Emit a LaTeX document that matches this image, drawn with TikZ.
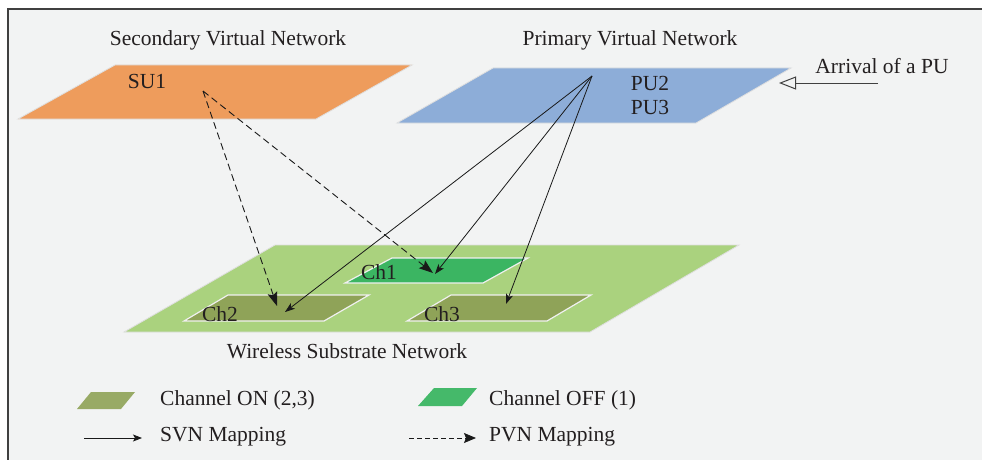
\documentclass[tikz,border=0pt]{standalone}
\usepackage{fontspec}
\setmainfont{Liberation Serif}
\usetikzlibrary{arrows.meta}
\definecolor{bgc}{HTML}{F2F3F3}
\definecolor{orangep}{HTML}{EE9C5C}
\definecolor{bluep}{HTML}{8DADD8}
\definecolor{greenp}{HTML}{AAD27E}
\definecolor{choff}{HTML}{3BB562}
\definecolor{chon}{HTML}{8FA358}
\definecolor{txt}{HTML}{231F20}
\tikzset{
  lbl/.style={inner sep=0pt, text=txt, font=\fontsize{21.5}{25}\selectfont},
  plane/.style={draw=gray!25, line width=0.8pt},
  chan/.style={draw=white!88!gray, line width=1.2pt},
  svn/.style={draw=black!90, line width=0.8pt, -{Stealth[length=10pt,width=7pt,inset=2.5pt]}},
  pvn/.style={draw=black!90, line width=0.9pt, dash pattern=on 7pt off 4pt, -{Stealth[length=14pt,width=10pt,inset=2.5pt]}},
}
\begin{document}
\begin{tikzpicture}[x=1pt,y=-1pt]
\useasboundingbox (0,0) rectangle (982,460);
\fill[white] (0,0) rectangle (982,460);
\fill[bgc] (8,9) rectangle (982,460);
\draw[black!75, line width=1.2pt] (8,460) -- (8,9) -- (982,9);

% planes
\fill[orangep, plane] (115,65) -- (412,65) -- (316,119) -- (18,119) -- cycle;
\fill[bluep, plane] (493,68) -- (791,68) -- (696,123) -- (397,123) -- cycle;
\fill[greenp, plane] (275,245) -- (739,245) -- (590,332) -- (124,332) -- cycle;
\fill[choff, chan] (392,258) -- (528,258) -- (483,283) -- (345,283) -- cycle;
\fill[chon, chan] (228,295) -- (369,295) -- (324,321) -- (184,321) -- cycle;
\fill[chon, chan] (451,295) -- (591,295) -- (547,321) -- (407,321) -- cycle;

% labels
\node[lbl] (tsvn) at (228,40) {Secondary Virtual Network};
\node[lbl] (tpvn) at (630,40) {Primary Virtual Network};
\node[lbl] (twsn) at (347,351) {Wireless Substrate Network};
\node[lbl] (su1) at (147,81) {SU1};
\node[lbl] (pu2) at (650,83) {PU2};
\node[lbl] (pu3) at (650,107) {PU3};
\node[lbl] (arr) at (882,66) {Arrival of a PU};
\node[lbl] (ch1) at (379,272) {Ch1};
\node[lbl] (ch2) at (220,314) {Ch2};
\node[lbl] (ch3) at (442,314) {Ch3};

% mapping endpoints
\coordinate (srcsu) at (203,91);
\coordinate (srcpu) at (592,76);
\coordinate (tch2d) at (277,306);
\coordinate (tch2s) at (285,312);
\coordinate (tch1d) at (433,273);
\coordinate (tch1s) at (435,274);
\coordinate (tch3s) at (506,304);
\coordinate (arrtail) at (878,83);
\coordinate (arrtip) at (779,83);

\draw[pvn] (srcsu) -- (tch2d);
\draw[pvn] (srcsu) -- (tch1d);
\draw[svn] (srcpu) -- (tch2s);
\draw[svn] (srcpu) -- (tch1s);
\draw[svn] (srcpu) -- (tch3s);
\draw[black!75, line width=1pt, -{Triangle[open, length=17pt, width=13pt]}] (arrtail) -- (arrtip);

% legend
\fill[chon!92!white] (91,392) -- (135,392) -- (121,409) -- (77,409) -- cycle;
\fill[choff!95!white] (434,388) -- (477,388) -- (462,406) -- (418,406) -- cycle;
\node[lbl, anchor=west] (lon) at (160,400) {Channel ON (2,3)};
\node[lbl, anchor=west] (loff) at (489,400) {Channel OFF (1)};
\coordinate (ls1) at (84,438);
\coordinate (ls2) at (142,438);
\coordinate (lp1) at (409,438);
\coordinate (lp2) at (476,438);
\draw[black!90, line width=0.8pt, -{Stealth[length=9pt,width=7pt,inset=2pt]}] (ls1) -- (ls2);
\draw[black!90, line width=0.8pt, dash pattern=on 5pt off 3pt, -{Stealth[length=12pt,width=10pt,inset=2pt]}] (lp1) -- (lp2);
\node[lbl, anchor=west] (lsvn) at (160,437) {SVN Mapping};
\node[lbl, anchor=west] (lpvn) at (489,437) {PVN Mapping};
\end{tikzpicture}
\end{document}
